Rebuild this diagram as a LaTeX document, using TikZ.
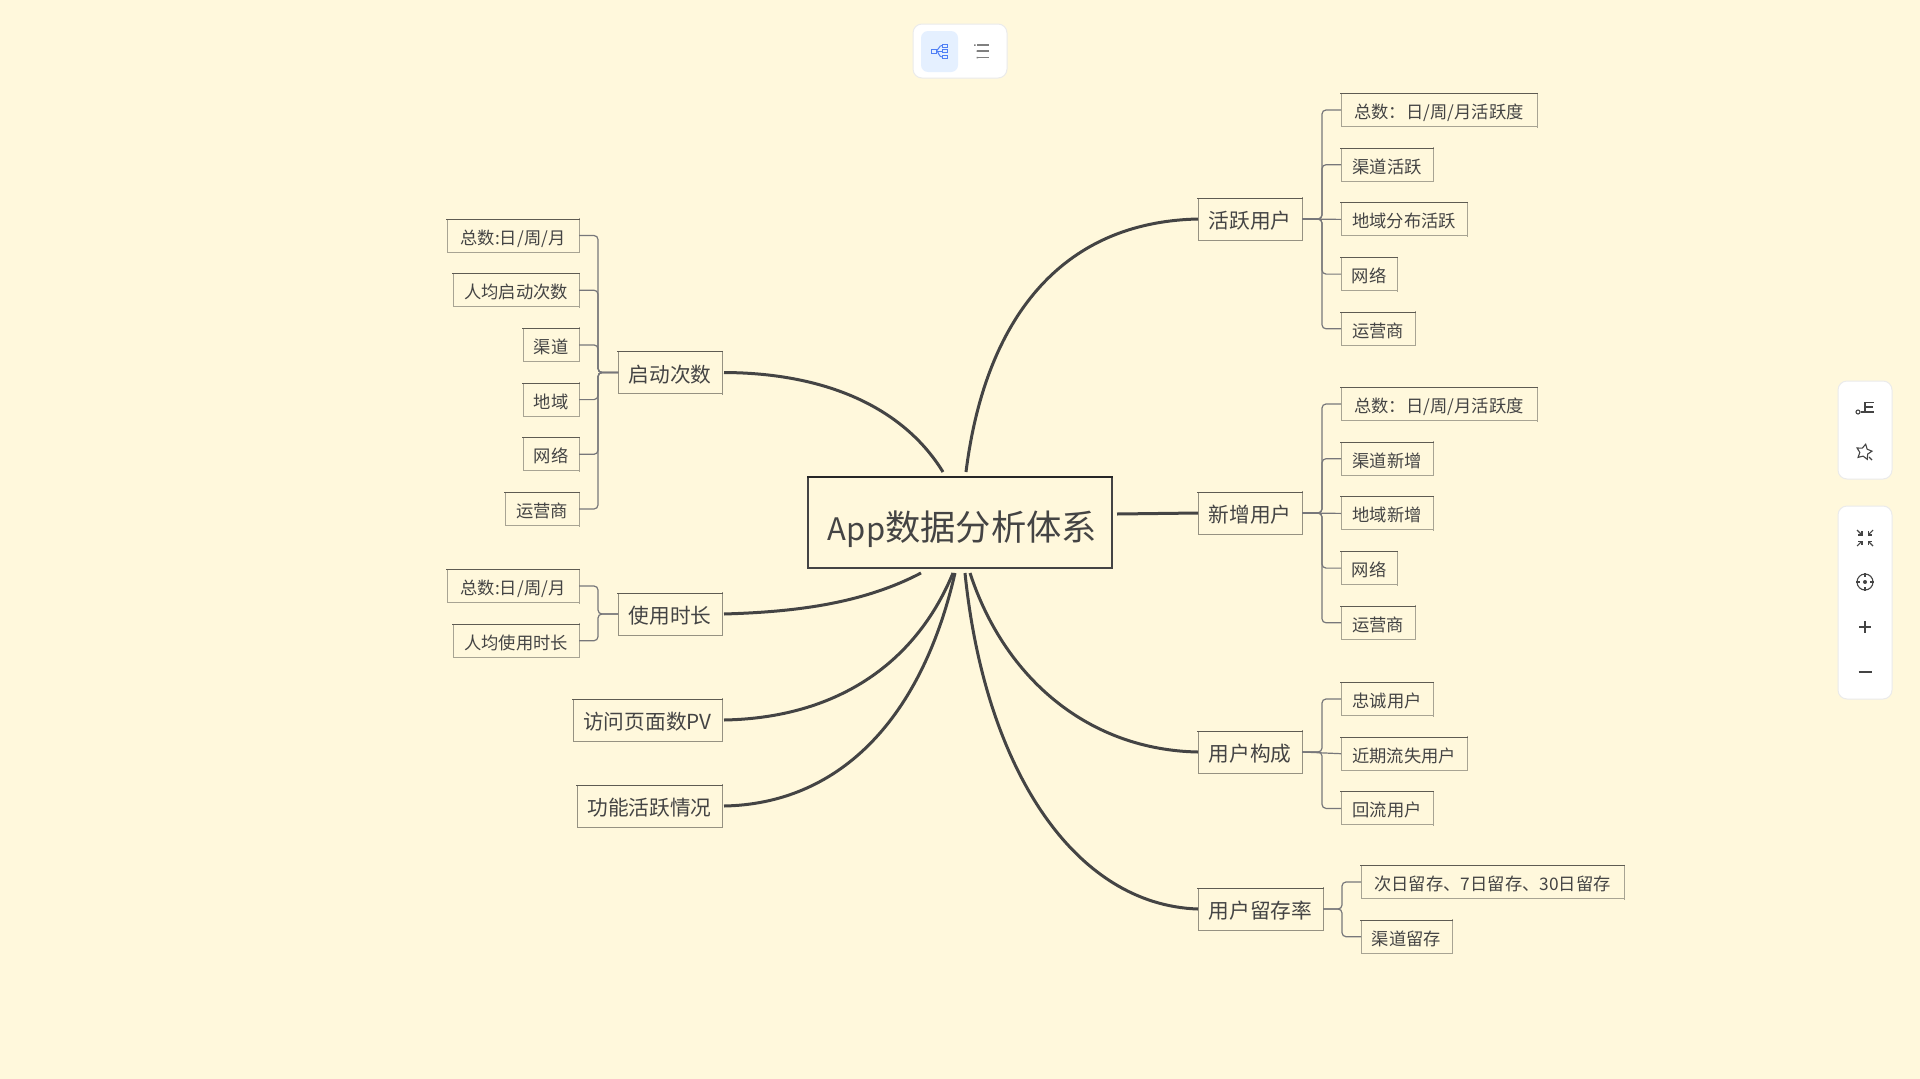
\documentclass[tikz,border=0pt]{standalone}
\usepackage{fontspec}
\setmainfont{Noto Sans CJK SC}
\usetikzlibrary{positioning,shapes.geometric,arrows.meta}
\definecolor{paper}{HTML}{FFF8DC}
\definecolor{ink}{HTML}{444444}
\definecolor{rim}{HTML}{5E5B52}
\definecolor{rimsoft}{HTML}{A8A493}
\definecolor{trunk}{HTML}{77777A}
\definecolor{iconblue}{HTML}{4F7FF5}
\tikzset{
  sketched/.style n args={3}{outer sep=0pt,append after command={\pgfextra{
    \draw[#2,line width=#3] ([yshift=1pt]\tikzlastnode.north east) -- ([yshift=-1pt]\tikzlastnode.south east);
    \draw[#2,line width=#3] (\tikzlastnode.north west) -- (\tikzlastnode.south west) -- (\tikzlastnode.south east);
    \draw[#1,line width=#3] ([xshift=-1pt]\tikzlastnode.north west) -- ([xshift=1pt]\tikzlastnode.north east);
  }}},
  rootbox/.style={sketched={black!85}{ink}{1.6pt},text=ink,minimum width=304pt,minimum height=91pt,
    inner sep=0pt,font=\fontsize{35.3}{40}\selectfont,text height=44pt,text depth=8pt},
  topicbox/.style={sketched={rim}{rim!65!paper}{1pt},text=ink,minimum height=42pt,inner sep=0pt,
    font=\fontsize{20.7}{24}\selectfont,text height=23pt,text depth=4pt},
  leafbox/.style={sketched={rim}{rimsoft}{1pt},text=ink,minimum height=33pt,inner sep=0pt,
    font=\fontsize{17.3}{20}\selectfont,text height=20pt,text depth=3pt},
  mainline/.style={draw=ink,line width=3pt},
  branchline/.style={draw=trunk,line width=1.2pt,rounded corners=4pt},
  panelbox/.style={draw=black!8,fill=white,line width=1pt,rounded corners=9pt},
  iconline/.style={draw=ink,line width=1.1pt}
}
\begin{document}
\begin{tikzpicture}[x=1pt,y=-1pt]
  \useasboundingbox (0,0) rectangle (1920,1079);
  \fill[paper] (0,0) rectangle (1920,1079);

  % toolbar on top
  \draw[panelbox] (913,24) rectangle (1007,78);
  \fill[blue!60!cyan!10,rounded corners=7pt] (921,31) rectangle (958,72);
  \node[draw=iconblue,line width=1pt,minimum width=5pt,minimum height=4pt,inner sep=0pt] (mapa) at (933.5,51) {};
  \node[draw=iconblue,line width=1pt,minimum width=5pt,minimum height=3pt,inner sep=0pt] (mapb) at (945,45.5) {};
  \node[draw=iconblue,line width=1pt,minimum width=5pt,minimum height=3pt,inner sep=0pt] (mapc) at (945,51) {};
  \node[draw=iconblue,line width=1pt,minimum width=5pt,minimum height=3pt,inner sep=0pt] (mapd) at (945,57) {};
  \draw[iconblue,line width=1pt] (mapa.east) to[out=30,in=180] (mapb.west);
  \draw[iconblue,line width=1pt] (mapa.east) -- (mapc.west);
  \draw[iconblue,line width=1pt] (mapa.east) to[out=-30,in=180] (mapd.west);
  \draw[gray,line width=1.1pt] (977,45) -- (989,45) (977,51) -- (989,51) (977,57.5) -- (989,57.5);
  \fill[gray] (974,44.3) rectangle (975.5,45.8) (976.5,50.3) rectangle (978,51.8) (976.5,56.8) rectangle (978,58.3);

  % tools on the right
  \draw[panelbox] (1838,381) rectangle (1892,479);
  \draw[panelbox] (1838,506) rectangle (1892,699);
  \node[circle,iconline,minimum size=4pt,inner sep=0pt] (fork) at (1858,412) {};
  \draw[iconline] (fork.east) -- (1874,412);
  \draw[iconline] (1865,412) -- (1865,402.5) -- (1874,402.5) (1865,407) -- (1873,407);
  \node[star,star points=5,star point ratio=1.9,iconline,minimum size=16pt,inner sep=0pt,rotate=-12] (fav) at (1864,452) {};
  \draw[iconline] (fav.center) ++(5,5) -- ++(3,3);
  \foreach \sx/\sy in {-1/-1,1/-1,-1/1,1/1}
    \draw[iconline,-{Straight Barb[length=2.5pt,width=5pt]}] (1865+\sx*8,538+\sy*8) -- (1865+\sx*2.5,538+\sy*2.5);
  \node[circle,iconline,minimum size=16pt,inner sep=0pt] (aim) at (1865,582) {};
  \fill[ink] (aim.center) circle (2pt);
  \draw[iconline] (aim.north) -- ++(0,4) (aim.south) -- ++(0,-4) (aim.west) -- ++(4,0) (aim.east) -- ++(-4,0);
  \draw[iconline] (1859,627) -- (1871,627) (1865,621) -- (1865,633);
  \draw[iconline] (1858.5,672) -- (1871.5,672);

  % centre
  \node[rootbox] (root) at (960,522.5) {\hspace*{5pt}{\fontsize{31}{40}\selectfont App}数据分析体系};
  \coordinate (rootA) at (966,472);
  \coordinate (rootB) at (943,472);
  \coordinate (rootC) at (1117,514);
  \coordinate (rootD) at (921,573);
  \coordinate (rootE) at (953,573);
  \coordinate (rootF) at (955,573);
  \coordinate (rootG) at (970,573);
  \coordinate (rootH) at (965,573);

  % right side
  \node[topicbox,minimum width=104pt] (active) at (1250,219) {活跃用户};
  \node[topicbox,minimum width=104pt,below=252pt of active] (fresh) {新增用户};
  \node[topicbox,minimum width=104pt,below=197pt of fresh] (makeup) {用户构成};
  \node[topicbox,minimum width=125pt,below=115pt of makeup.south west,anchor=north west] (keep) {用户留存率};

  \node[leafbox,anchor=west,minimum width=196pt] (activeA) at (1341,110) {总数：日/周/月活跃度};
  \node[leafbox,minimum width=92pt,below=21.7pt of activeA.south west,anchor=north west] (activeB) {渠道活跃};
  \node[leafbox,minimum width=126pt,below=21.7pt of activeB.south west,anchor=north west] (activeC) {地域分布活跃};
  \node[leafbox,minimum width=56pt,below=21.7pt of activeC.south west,anchor=north west] (activeD) {网络};
  \node[leafbox,minimum width=74pt,below=21.7pt of activeD.south west,anchor=north west] (activeE) {运营商};

  \node[leafbox,anchor=west,minimum width=196pt] (freshA) at (1341,404) {总数：日/周/月活跃度};
  \node[leafbox,minimum width=92pt,below=21.7pt of freshA.south west,anchor=north west] (freshB) {渠道新增};
  \node[leafbox,minimum width=92pt,below=21.7pt of freshB.south west,anchor=north west] (freshC) {地域新增};
  \node[leafbox,minimum width=56pt,below=21.7pt of freshC.south west,anchor=north west] (freshD) {网络};
  \node[leafbox,minimum width=74pt,below=21.7pt of freshD.south west,anchor=north west] (freshE) {运营商};

  \node[leafbox,anchor=west,minimum width=92pt] (makeupA) at (1341,699) {忠诚用户};
  \node[leafbox,minimum width=126pt,below=21.7pt of makeupA.south west,anchor=north west] (makeupB) {近期流失用户};
  \node[leafbox,minimum width=92pt,below=21.7pt of makeupB.south west,anchor=north west] (makeupC) {回流用户};

  \node[leafbox,anchor=west,minimum width=263pt] (keepA) at (1361,882) {次日留存、7日留存、30日留存};
  \node[leafbox,minimum width=91pt,below=21.7pt of keepA.south west,anchor=north west] (keepB) {渠道留存};

  % left side
  \node[topicbox,minimum width=104pt] (launch) at (670,372.5) {启动次数};
  \node[topicbox,minimum width=104pt] (usetime) at (670,614) {使用时长};
  \node[topicbox,minimum width=149pt,anchor=east] (pages) at (722,720) {访问页面数PV};
  \node[topicbox,minimum width=145pt,anchor=east] (func) at (722,806) {功能活跃情况};

  \node[leafbox,anchor=east,minimum width=132pt] (launchA) at (579,235.5) {总数:日/周/月};
  \node[leafbox,minimum width=126pt,below=21.7pt of launchA.south east,anchor=north east] (launchB) {人均启动次数};
  \node[leafbox,minimum width=56pt,below=21.7pt of launchB.south east,anchor=north east] (launchC) {渠道};
  \node[leafbox,minimum width=56pt,below=21.7pt of launchC.south east,anchor=north east] (launchD) {地域};
  \node[leafbox,minimum width=56pt,below=21.7pt of launchD.south east,anchor=north east] (launchE) {网络};
  \node[leafbox,minimum width=74pt,below=21.7pt of launchE.south east,anchor=north east] (launchF) {运营商};

  \node[leafbox,anchor=east,minimum width=132pt] (usetimeA) at (579,586) {总数:日/周/月};
  \node[leafbox,minimum width=126pt,below=21.7pt of usetimeA.south east,anchor=north east] (usetimeB) {人均使用时长};

  % thick lines from the centre
  \draw[mainline] (rootA) .. controls (985,320) and (1060,222) .. (active.west);
  \draw[mainline] (rootC) -- (fresh.west);
  \draw[mainline] (rootG) .. controls (1005,680) and (1090,750) .. (makeup.west);
  \draw[mainline] (rootH) .. controls (985,770) and (1075,905) .. (keep.west);
  \draw[mainline] (rootB) .. controls (905,410) and (830,373) .. ([xshift=2pt]launch.east);
  \draw[mainline] (rootD) .. controls (860,605) and (790,612) .. ([xshift=2pt]usetime.east);
  \draw[mainline] (rootE) .. controls (915,665) and (835,718) .. ([xshift=2pt]pages.east);
  \draw[mainline] (rootF) .. controls (920,725) and (835,804) .. ([xshift=2pt]func.east);

  % thin brackets
  \draw[branchline] (active.east) -- ++(20,0) |- (activeA.west);
  \draw[branchline] (active.east) -- ++(20,0) |- (activeB.west);
  \draw[branchline] (active.east) -- (activeC.west);
  \draw[branchline] (active.east) -- ++(20,0) |- (activeD.west);
  \draw[branchline] (active.east) -- ++(20,0) |- (activeE.west);
  \draw[branchline] (fresh.east) -- ++(20,0) |- (freshA.west);
  \draw[branchline] (fresh.east) -- ++(20,0) |- (freshB.west);
  \draw[branchline] (fresh.east) -- (freshC.west);
  \draw[branchline] (fresh.east) -- ++(20,0) |- (freshD.west);
  \draw[branchline] (fresh.east) -- ++(20,0) |- (freshE.west);
  \draw[branchline] (makeup.east) -- ++(20,0) |- (makeupA.west);
  \draw[branchline] (makeup.east) -- (makeupB.west);
  \draw[branchline] (makeup.east) -- ++(20,0) |- (makeupC.west);
  \draw[branchline] (keep.east) -- ++(19,0) |- (keepA.west);
  \draw[branchline] (keep.east) -- ++(19,0) |- (keepB.west);
  \draw[branchline] (launch.west) -- ++(-20,0) |- (launchA.east);
  \draw[branchline] (launch.west) -- ++(-20,0) |- (launchB.east);
  \draw[branchline] (launch.west) -- ++(-20,0) |- (launchC.east);
  \draw[branchline] (launch.west) -- ++(-20,0) |- (launchD.east);
  \draw[branchline] (launch.west) -- ++(-20,0) |- (launchE.east);
  \draw[branchline] (launch.west) -- ++(-20,0) |- (launchF.east);
  \draw[branchline] (usetime.west) -- ++(-20,0) |- (usetimeA.east);
  \draw[branchline] (usetime.west) -- ++(-20,0) |- (usetimeB.east);
\end{tikzpicture}
\end{document}
